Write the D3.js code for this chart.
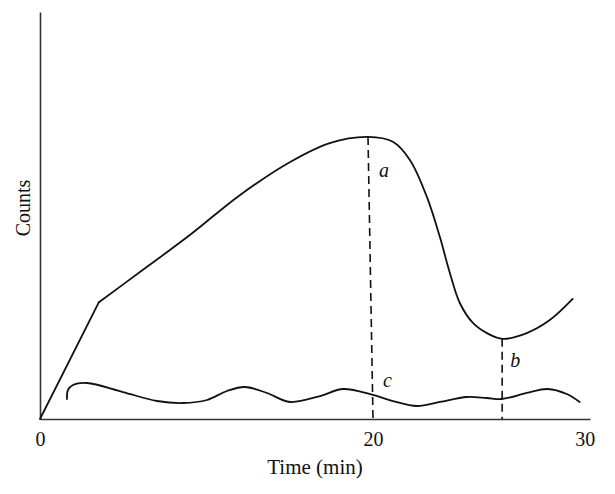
<!DOCTYPE html>
<html>
<head>
<meta charset="utf-8">
<script src="https://cdn.jsdelivr.net/npm/d3@7"></script>
<style>
  html, body { margin: 0; padding: 0; background: #fff; }
  svg { display: block; }
  text { font-family: "Liberation Serif", "DejaVu Serif", serif; fill: #111; }
</style>
</head>
<body>
<svg id="chart" width="615" height="494"></svg>
<script>
// ---- data (schematic units) ----
const xTickValues = [0, 20, 30];
const xTitle = "Time (min)";
const yTitle = "Counts";

// main curve: initial linear rise
const riseTime   = [0, 3.54];
const riseCounts = [0, 28.7];

// main curve: smooth part (peak a, minimum b)
const mainTime   = [3.54, 6.0, 9.0, 12.0, 15.0, 17.4, 19.7, 20.94, 21.75, 22.55, 23.16, 23.63, 24.1, 24.72, 25.38, 26.13, 27.26, 28.35, 29.43];
const mainCounts = [28.7, 36.1, 45.2, 55.0, 63.1, 67.8, 69.3, 68.1, 63.6, 54.5, 44.7, 35.9, 28.5, 23.6, 21.1, 19.7, 21.1, 24.3, 29.5];

// baseline curve c
const baseTime   = [1.62, 1.68, 1.98, 2.82, 4.98, 7.03, 8.59, 10.03, 11.23, 12.31, 13.63, 15.02, 16.82, 18.2, 20.0, 20.94, 22.08, 23.16, 24.43, 25.38, 26.08, 27.26, 28.25, 29.15, 29.76];
const baseCounts = [4.91, 7.13, 8.35, 8.85, 6.63, 4.42, 3.93, 4.67, 6.88, 7.86, 6.39, 4.18, 5.65, 7.37, 5.9, 4.42, 3.19, 4.18, 5.41, 5.16, 4.91, 6.39, 7.37, 6.14, 4.18];

// dashed markers
const markerLabels = ["a", "b"];
const markerTopTime    = [19.7, 26.1];
const markerTopCounts  = [69.3, 19.7];
const markerBottomTime = [20.0, 26.1];

// ---- chart ----
const svg = d3.select("#chart");

const x = d3.scaleLinear().domain([0, 20, 30.25]).range([40, 373, 590]);
const y = d3.scaleLinear().domain([0, 100]).range([419, 12]);

// axes
const xAxis = d3.axisBottom(x).tickValues(xTickValues).tickSize(0).tickSizeOuter(0).tickFormat(d3.format("d"));
const gx = svg.append("g").attr("transform", `translate(0,${y(0)})`).call(xAxis);
gx.select(".domain").attr("stroke", "#333").attr("stroke-width", 1.6);
gx.selectAll(".tick text")
  .attr("y", 27).attr("dy", 0)
  .style("font-family", '"Liberation Serif", serif')
  .style("font-size", "20px")
  .attr("fill", "#111");

const yAxis = d3.axisLeft(y).tickValues([]).tickSizeOuter(0);
const gy = svg.append("g").attr("transform", `translate(${x(0)},0)`).call(yAxis);
gy.select(".domain").attr("stroke", "#333").attr("stroke-width", 1.6);

// axis titles
svg.append("text")
  .attr("x", 315).attr("y", 474)
  .attr("text-anchor", "middle")
  .style("font-size", "21px")
  .text(xTitle);

svg.append("text")
  .attr("transform", "translate(30,208) rotate(-90)")
  .attr("text-anchor", "middle")
  .style("font-size", "20px")
  .text(yTitle);

// curves
const toPts = (ts, cs) => ts.map((t, i) => [t, cs[i]]);

const lineLinear = d3.line().x(d => x(d[0])).y(d => y(d[1]));
const lineSmooth = d3.line().x(d => x(d[0])).y(d => y(d[1])).curve(d3.curveCatmullRom.alpha(0.5));

const curveStyle = sel => sel.attr("fill", "none").attr("stroke", "#111").attr("stroke-width", 1.8)
  .attr("stroke-linejoin", "round").attr("stroke-linecap", "round");

svg.append("path").attr("d", lineLinear(toPts(riseTime, riseCounts))).call(curveStyle);
svg.append("path").attr("d", lineSmooth(toPts(mainTime, mainCounts))).call(curveStyle);
svg.append("path").attr("d", lineSmooth(toPts(baseTime, baseCounts))).call(curveStyle);

// dashed markers
markerLabels.forEach((lab, i) => {
  svg.append("line")
    .attr("x1", x(markerTopTime[i])).attr("y1", y(markerTopCounts[i]))
    .attr("x2", x(markerBottomTime[i])).attr("y2", y(0))
    .attr("stroke", "#111").attr("stroke-width", 1.6)
    .attr("stroke-dasharray", "8,5");
});

// labels a, b, c
const labelStyle = sel => sel.style("font-size", "20px").style("font-style", "italic");
svg.append("text").attr("x", x(markerTopTime[0]) + 11).attr("y", 177).text("a").call(labelStyle);
svg.append("text").attr("x", x(markerTopTime[1]) + 8).attr("y", 367).text("b").call(labelStyle);
svg.append("text").attr("x", x(20) + 10).attr("y", 387).text("c").call(labelStyle);
</script>
</body>
</html>
